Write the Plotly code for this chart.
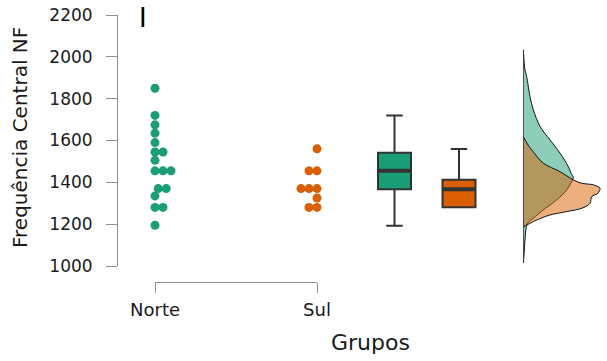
import plotly.graph_objects as go

# ---- data -------------------------------------------------------------
groups = ["Norte", "Sul"]
colors = ["#1b9e77", "#d95f02"]

norte_values = [1850, 1720, 1675, 1635, 1590, 1545, 1545, 1505,
                1455, 1455, 1455, 1455, 1455,
                1370, 1370, 1370, 1370, 1335, 1280, 1280, 1195]
sul_values = [1560, 1455, 1455, 1455, 1455,
              1370, 1370, 1370, 1370, 1370, 1325,
              1280, 1280, 1280, 1280]

# box-plot summary per group (Norte, Sul)
box_q1 = [1367, 1281]
box_median = [1455, 1367]
box_q3 = [1542, 1412]
box_lower = [1192, 1281]
box_upper = [1719, 1559]

# relative density profiles (value in Hz, relative density)
norte_dens_hz = [1014, 1053, 1124, 1188, 1212, 1228, 1268, 1316, 1364, 1426,
                 1436, 1475, 1540, 1603, 1667, 1747, 1810, 1906, 1938, 2034]
norte_dens = [0.0, 0.009, 0.022, 0.04, 0.07, 0.13, 0.26, 0.435, 0.566, 0.652,
              0.632, 0.587, 0.478, 0.348, 0.218, 0.13, 0.087, 0.044, 0.022, 0.0]
sul_dens_hz = [1187, 1204, 1220, 1244, 1260, 1278, 1300, 1332, 1348, 1372,
               1388, 1396, 1412, 1451, 1492, 1555, 1579, 1619]
sul_dens = [0.0, 0.087, 0.175, 0.348, 0.566, 0.778, 0.87, 0.892, 0.974, 1.0,
            0.913, 0.756, 0.652, 0.478, 0.26, 0.11, 0.061, 0.0]

y_ticks = [1000, 1200, 1400, 1600, 1800, 2000, 2200]

# ---- layout geometry -------------------------------------------------------
W, H = 607, 361
ML, MR, MT, MB = 117, 0, 15, 79
PW, PH = W - ML - MR, H - MT - MB


def fx(px):
    return (px - ML) / PW


def fy(py):
    return (H - MB - py) / PH


Y_RANGE = [1000, 2200]
y_dom = [fy(266), 1.0]
hz_to_px = (y_dom[1] - y_dom[0]) * PH / (Y_RANGE[1] - Y_RANGE[0])

# category axis: Norte at 155px, Sul at 317px
cat_px = [155, 317]
unit_cat = cat_px[1] - cat_px[0]

# box axis: box centres at 394.5px and 459px
box_px = [394.5, 459]
unit_box = box_px[1] - box_px[0]
box_dom_px = [368, 486]
box_width_px = 33

# density axis
dens_base_px = 523.3
dens_peak_px = 76.7


def swarm(values, diam=8.0, step=0.25):
    """Simple beeswarm: offsets in px so that dots do not overlap."""
    order = sorted(range(len(values)), key=lambda i: values[i])
    placed = []
    offs = [0.0] * len(values)
    for i in order:
        vy = values[i] * hz_to_px
        k = 0
        while True:
            cands = [0.0] if k == 0 else [k * step, -k * step]
            ok = None
            for c in cands:
                if all((c - px) ** 2 + (vy - py) ** 2 >= diam ** 2 - 1e-6
                       for px, py in placed):
                    ok = c
                    break
            if ok is not None:
                offs[i] = ok
                placed.append((ok, vy))
                break
            k += 1
    return offs


fig = go.Figure()

# ---- dots ------------------------------------------------------------------
for gi, vals in enumerate([norte_values, sul_values]):
    offs = swarm(vals)
    fig.add_trace(go.Scatter(
        x=[gi + o / unit_cat for o in offs], y=vals,
        mode="markers", xaxis="x", yaxis="y", cliponaxis=False,
        marker=dict(size=9, color=colors[gi], line=dict(width=0)),
        showlegend=False, hoverinfo="y"))

# ---- boxes -----------------------------------------------------------------
bw = box_width_px / unit_box
for gi in range(len(groups)):
    fig.add_trace(go.Box(
        x=[gi], q1=[box_q1[gi]], median=[box_median[gi]], q3=[box_q3[gi]],
        lowerfence=[box_lower[gi]], upperfence=[box_upper[gi]],
        orientation="v", width=bw, whiskerwidth=0.5,
        fillcolor=colors[gi], line=dict(color="#333333", width=2),
        xaxis="x2", yaxis="y", boxpoints=False, showlegend=False,
        name=groups[gi]))
    fig.add_trace(go.Scatter(
        x=[gi - bw / 2, gi + bw / 2], y=[box_median[gi]] * 2,
        mode="lines", line=dict(color="#333333", width=4),
        xaxis="x2", yaxis="y", showlegend=False, hoverinfo="skip"))

# ---- densities -------------------------------------------------------------
for gi, (hz, dens) in enumerate([(norte_dens_hz, norte_dens),
                                 (sul_dens_hz, sul_dens)]):
    r, g, b = (int(colors[gi][k:k + 2], 16) for k in (1, 3, 5))
    fig.add_trace(go.Scatter(
        x=dens, y=hz, mode="lines", fill="toself",
        fillcolor=f"rgba({r},{g},{b},0.5)",
        line=dict(color="#111111", width=1, shape="spline", smoothing=0.9),
        xaxis="x3", yaxis="y", showlegend=False, hoverinfo="skip"))
fig.add_trace(go.Scatter(
    x=[0, 0], y=[min(norte_dens_hz), max(norte_dens_hz)], mode="lines",
    line=dict(color="#111111", width=1.3),
    xaxis="x3", yaxis="y", showlegend=False, hoverinfo="skip"))

axis_grey = "#8f8f8f"
font_family = "DejaVu Sans"

fig.update_layout(
    template="none",
    width=W, height=H, autosize=False,
    margin=dict(l=ML, r=MR, t=MT, b=MB, pad=0, autoexpand=False),
    paper_bgcolor="white", plot_bgcolor="white",
    font=dict(family=font_family, color="#1a1a1a"),
    boxmode="overlay",
    xaxis=dict(
        domain=[fx(cat_px[0]), fx(cat_px[1])], range=[0, 1],
        anchor="free", position=0, automargin=False,
        tickmode="array", tickvals=[0, 1], ticktext=groups,
        ticks="outside", ticklen=10, tickcolor=axis_grey, tickwidth=1,
        showline=True, linecolor=axis_grey, linewidth=1,
        showgrid=False, zeroline=False,
        tickfont=dict(size=18, family=font_family, color="#1a1a1a"),
        ticklabelstandoff=1,
    ),
    xaxis2=dict(
        domain=[fx(box_dom_px[0]), fx(box_dom_px[1])],
        range=[(box_dom_px[0] - box_px[0]) / unit_box,
               (box_dom_px[1] - box_px[0]) / unit_box],
        anchor="y", visible=False, automargin=False,
    ),
    xaxis3=dict(
        domain=[fx(dens_base_px), 1.0],
        range=[0, (W - MR - dens_base_px) / dens_peak_px],
        anchor="y", visible=False, automargin=False,
    ),
    yaxis=dict(
        domain=y_dom, range=Y_RANGE, anchor="free", position=0,
        automargin=False,
        tickmode="array", tickvals=y_ticks,
        ticks="outside", ticklen=11, tickcolor=axis_grey, tickwidth=1,
        showline=True, linecolor=axis_grey, linewidth=1,
        showgrid=False, zeroline=False,
        tickfont=dict(size=17, family=font_family, color="#1a1a1a"),
        ticklabelstandoff=10,
    ),
    annotations=[
        dict(text="Frequência Central NF", textangle=-90,
             x=fx(20), y=fy(138), xref="paper", yref="paper",
             xanchor="center", yanchor="middle", showarrow=False,
             font=dict(size=20, family=font_family, color="#1a1a1a")),
        dict(text="Grupos", x=fx(370), y=fy(342), xref="paper", yref="paper",
             xanchor="center", yanchor="middle", showarrow=False,
             font=dict(size=22, family=font_family, color="#1a1a1a")),
        dict(text="I", x=fx(142.5), y=fy(18), xref="paper", yref="paper",
             xanchor="center", yanchor="middle", showarrow=False,
             font=dict(size=26, family=font_family, color="#000000")),
    ],
)

fig.write_html("out.html")
